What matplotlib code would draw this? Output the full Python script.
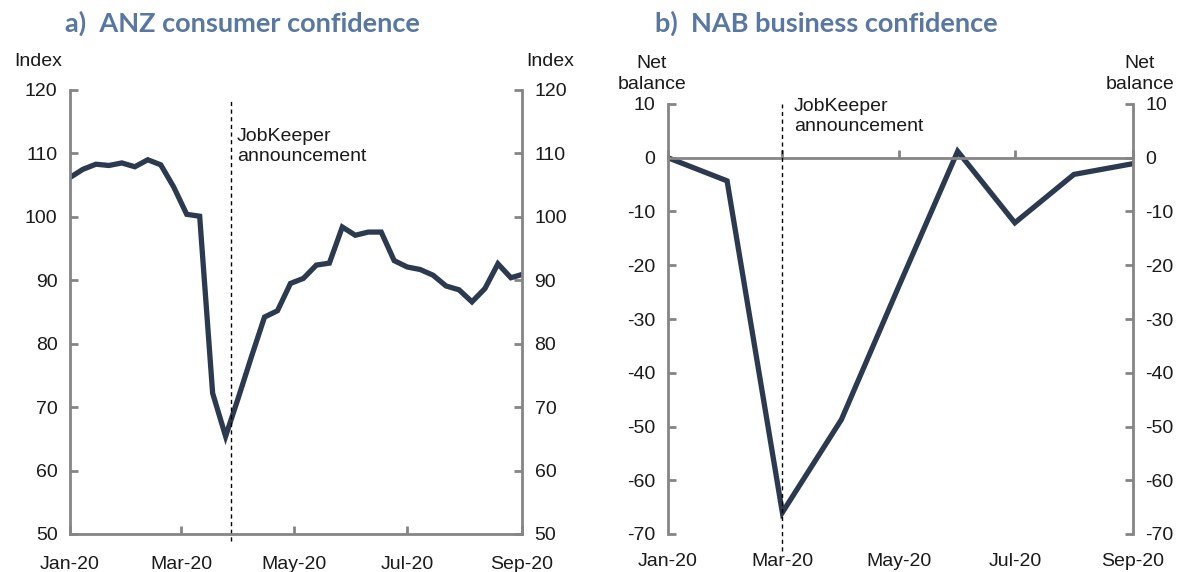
import matplotlib
matplotlib.use('Agg')
import matplotlib.pyplot as plt
import numpy as np
import pandas as pd

# ANZ consumer confidence, weekly from early Jan 2020
anz_dates = pd.date_range('2020-01-01', periods=36, freq='7D')
anz_values = [106.2, 107.5, 108.3, 108.1, 108.5, 107.9, 109.0, 108.2, 104.7, 100.4,
              100.1, 72.2, 65.4, 71.6, 78.0, 84.2, 85.2, 89.5, 90.3, 92.4,
              92.7, 98.4, 97.1, 97.6, 97.6, 93.1, 92.1, 91.7, 90.8, 89.1,
              88.5, 86.6, 88.7, 92.6, 90.4, 91.0]

# NAB business confidence, monthly
nab_dates = pd.date_range('2020-01-01', periods=9, freq='MS')
nab_values = [0.0, -4.3, -66.0, -48.7, -24.0, 1.2, -12.1, -3.1, -1.1]

tick_dates = pd.to_datetime(['2020-01-01', '2020-03-01', '2020-05-01', '2020-07-01', '2020-09-01'])
tick_labels = ['Jan-20', 'Mar-20', 'May-20', 'Jul-20', 'Sep-20']
jobkeeper_anz = pd.Timestamp('2020-03-28')
jobkeeper_nab = pd.Timestamp('2020-03-01')

start = pd.Timestamp('2020-01-01')


def days(d):
    return np.asarray((pd.DatetimeIndex(d) - start).days, dtype=float)


line_col = '#2c3a4f'
spine_col = '#858585'
title_col = '#5877a3'
txt_col = '#1a1a1a'

plt.rcParams['font.family'] = ['Liberation Sans', 'DejaVu Sans']
plt.rcParams['font.size'] = 14
plt.rcParams['axes.unicode_minus'] = False

fig = plt.figure(figsize=(11.88, 5.72), dpi=100)
ax1 = fig.add_axes([70 / 1188, 38 / 572, 452 / 1188, 444 / 572])
ax2 = fig.add_axes([668 / 1188, 38 / 572, 465 / 1188, 430 / 572])


def style(ax):
    for s in ['left', 'right', 'bottom']:
        ax.spines[s].set_color(spine_col)
        ax.spines[s].set_linewidth(2)
    ax.spines['top'].set_visible(False)
    ax.tick_params(axis='y', which='both', direction='in', length=6, width=2,
                   color=spine_col, left=True, right=True, labelleft=True,
                   labelright=True, labelcolor=txt_col, labelsize=14, pad=9)
    ax.tick_params(axis='x', direction='in', length=6, width=2, color=spine_col,
                   labelcolor=txt_col, labelsize=14, pad=16)


# panel a
style(ax1)
ax1.plot(days(anz_dates), anz_values, color=line_col, lw=3.8, solid_joinstyle='miter')
ax1.set_xlim(0, 244)
ax1.set_ylim(50, 120)
ax1.set_yticks(np.arange(50, 121, 10))
ax1.set_xticks(days(tick_dates), tick_labels)
ax1.axvline(days([jobkeeper_anz])[0], ymin=-0.015, ymax=0.975, color='black', lw=1,
            ls=(0, (3, 2.5)), clip_on=False)
ax1.text(days([jobkeeper_anz])[0] + 3, 114.0, 'JobKeeper\nannouncement', fontsize=14,
         color=txt_col, va='top', ha='left', linespacing=1.25)
fig.text(38 / 1188, 1 - 62 / 572, 'Index', ha='center', va='center', fontsize=14, color=txt_col)
fig.text(550 / 1188, 1 - 62 / 572, 'Index', ha='center', va='center', fontsize=14, color=txt_col)
fig.text(65 / 1188, 1 - 23 / 572, 'a)  ANZ consumer confidence', ha='left', va='center',
         fontsize=19.5, fontweight='bold', color=title_col, family=['Lato', 'DejaVu Sans'])

# panel b
style(ax2)
ax2.plot(days(nab_dates), nab_values, color=line_col, lw=3.8, solid_joinstyle='miter')
ax2.set_xlim(0, 244)
ax2.set_ylim(-70, 10)
ax2.set_yticks(np.arange(-70, 11, 10))
ax2.spines['bottom'].set_position(('data', 0))
ax2.set_xticks(days(tick_dates))
ax2.tick_params(axis='x', labelbottom=False)
sec = ax2.secondary_xaxis('bottom')
sec.set_xticks(days(tick_dates), tick_labels)
sec.tick_params(length=0, labelsize=14, labelcolor=txt_col, pad=14)
sec.spines['bottom'].set_visible(False)
ax2.axvline(days([jobkeeper_nab])[0], ymin=-0.04, ymax=1.0, color='black', lw=1,
            ls=(0, (3, 2.5)), clip_on=False, zorder=3)
ax2.text(days([jobkeeper_nab])[0] + 6, 11.1, 'JobKeeper\nannouncement', fontsize=14,
         color=txt_col, va='top', ha='left', linespacing=1.25)
fig.text(652 / 1188, 1 - 74 / 572, 'Net\nbalance', ha='center', va='center', fontsize=14,
         color=txt_col, linespacing=1.3)
fig.text(1140 / 1188, 1 - 74 / 572, 'Net\nbalance', ha='center', va='center', fontsize=14,
         color=txt_col, linespacing=1.3)
fig.text(655 / 1188, 1 - 23 / 572, 'b)  NAB business confidence', ha='left', va='center',
         fontsize=19.5, fontweight='bold', color=title_col, family=['Lato', 'DejaVu Sans'])

fig.savefig('out.png', dpi=100)
